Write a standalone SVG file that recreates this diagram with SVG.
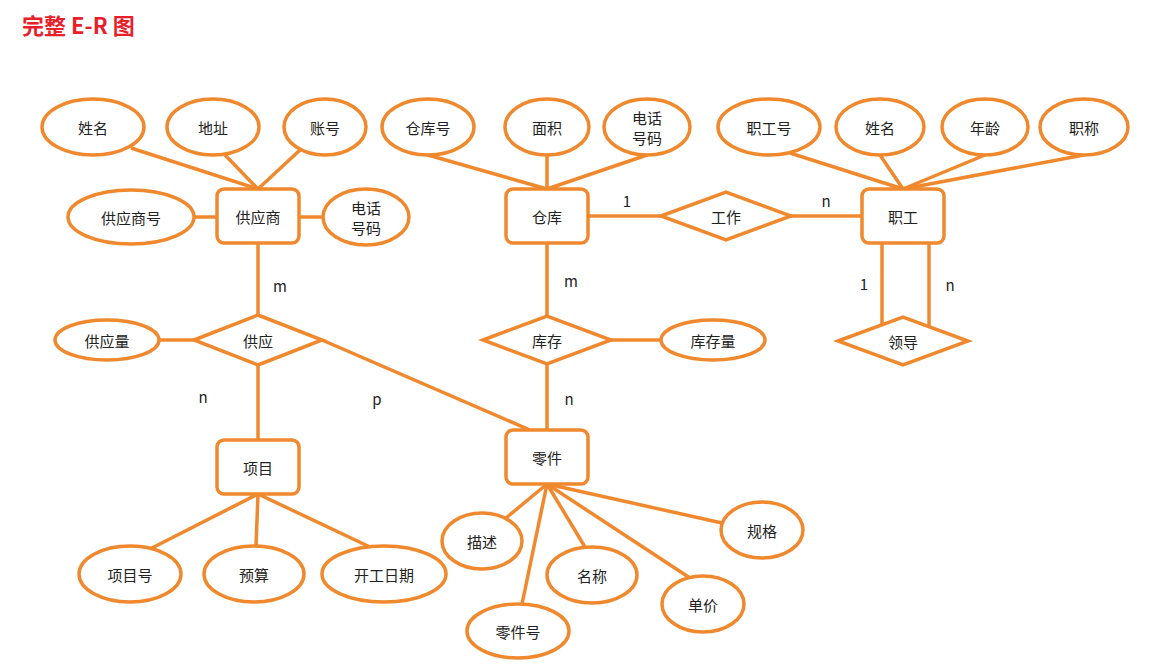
<svg xmlns="http://www.w3.org/2000/svg" width="1158" height="667" viewBox="0 0 1158 667">
<style>
.s{fill:#fff;stroke:#F0892E;stroke-width:3.5}
.l{stroke:#F0892E;stroke-width:3.5;fill:none}
text{font-family:"Noto Sans CJK SC","Liberation Sans",sans-serif;font-size:15px;fill:#222;text-anchor:middle;dominant-baseline:central}
.t{font-size:22px;font-weight:bold;fill:#E8202A;text-anchor:start}
</style>
<rect width="1158" height="667" fill="#fff"/>
<text class="t" x="22" y="24">完整 E-R 图</text>
<g id="connectors" class="l">
<line x1="131" y1="148" x2="258" y2="189"/><line x1="225" y1="155" x2="258" y2="189"/><line x1="300" y1="150" x2="258" y2="189"/>
<line x1="194" y1="217" x2="217" y2="217"/><line x1="299" y1="217" x2="323" y2="217"/>
<line x1="258" y1="243" x2="258" y2="315"/><line x1="159" y1="340" x2="194" y2="340"/>
<line x1="258" y1="365" x2="258" y2="440"/><line x1="322" y1="340" x2="530" y2="430"/>
<line x1="547" y1="155" x2="547" y2="189"/><line x1="428" y1="155" x2="547" y2="189"/><line x1="647" y1="155" x2="547" y2="189"/>
<line x1="588" y1="216" x2="661" y2="216"/><line x1="791" y1="216" x2="862" y2="216"/>
<line x1="547" y1="243" x2="547" y2="316"/><line x1="611" y1="340" x2="661" y2="340"/><line x1="547" y1="364" x2="547" y2="430"/>
<line x1="790" y1="153" x2="903" y2="189"/><line x1="880" y1="155" x2="903" y2="189"/><line x1="985" y1="155" x2="903" y2="189"/><line x1="1084" y1="155" x2="903" y2="189"/>
<line x1="882" y1="243" x2="882" y2="324"/><line x1="929" y1="243" x2="929" y2="326"/>
<line x1="258" y1="494" x2="150" y2="549"/><line x1="258" y1="494" x2="256" y2="546"/><line x1="258" y1="494" x2="370" y2="547"/>
<line x1="547" y1="484" x2="506" y2="518"/><line x1="547" y1="484" x2="522" y2="604"/><line x1="547" y1="484" x2="585" y2="547"/><line x1="547" y1="484" x2="690" y2="578"/><line x1="547" y1="484" x2="722" y2="523"/>
</g>
<g id="labels">
<text x="280" y="285">m</text><text x="203" y="396">n</text><text x="377" y="398">p</text>
<text x="571" y="280">m</text><text x="569" y="398">n</text>
<text x="627" y="200">1</text><text x="826" y="200">n</text>
<text x="864" y="283">1</text><text x="950" y="284">n</text>
</g>
<g id="n1"><ellipse class="s" cx="93" cy="127" rx="51" ry="28"/><text x="93" y="127">姓名</text></g>
<g id="n2"><ellipse class="s" cx="213" cy="127" rx="46" ry="28"/><text x="213" y="127">地址</text></g>
<g id="n3"><ellipse class="s" cx="325" cy="127" rx="41" ry="28"/><text x="325" y="127">账号</text></g>
<g id="n4"><rect class="s" x="217" y="189" width="82" height="54" rx="7"/><text x="258" y="216">供应商</text></g>
<g id="n5"><ellipse class="s" cx="131" cy="217" rx="63" ry="27"/><text x="131" y="217">供应商号</text></g>
<g id="n6"><ellipse class="s" cx="366" cy="217" rx="43" ry="28"/><text x="366" y="207">电话</text><text x="366" y="227">号码</text></g>
<g id="n7"><ellipse class="s" cx="428" cy="127" rx="46" ry="28"/><text x="428" y="127">仓库号</text></g>
<g id="n8"><ellipse class="s" cx="547" cy="127" rx="42" ry="28"/><text x="547" y="127">面积</text></g>
<g id="n9"><ellipse class="s" cx="647" cy="127" rx="43" ry="28"/><text x="647" y="117">电话</text><text x="647" y="137">号码</text></g>
<g id="n10"><rect class="s" x="506" y="189" width="82" height="54" rx="7"/><text x="547" y="216">仓库</text></g>
<g id="n11"><polygon class="s" points="661,216 726,192 791,216 726,240"/><text x="726" y="216">工作</text></g>
<g id="n12"><rect class="s" x="862" y="189" width="82" height="54" rx="7"/><text x="903" y="216">职工</text></g>
<g id="n13"><ellipse class="s" cx="769" cy="127" rx="51" ry="28"/><text x="769" y="127">职工号</text></g>
<g id="n14"><ellipse class="s" cx="880" cy="127" rx="44" ry="28"/><text x="880" y="127">姓名</text></g>
<g id="n15"><ellipse class="s" cx="985" cy="127" rx="43" ry="28"/><text x="985" y="127">年龄</text></g>
<g id="n16"><ellipse class="s" cx="1084" cy="127" rx="44" ry="28"/><text x="1084" y="127">职称</text></g>
<g id="n17"><polygon class="s" points="838,341 903,317 968,341 903,365"/><text x="903" y="341">领导</text></g>
<g id="n18"><polygon class="s" points="194,340 258,315 322,340 258,365"/><text x="258" y="340">供应</text></g>
<g id="n19"><ellipse class="s" cx="107" cy="340" rx="52" ry="20"/><text x="107" y="340">供应量</text></g>
<g id="n20"><polygon class="s" points="483,340 547,316 611,340 547,364"/><text x="547" y="340">库存</text></g>
<g id="n21"><ellipse class="s" cx="713" cy="340" rx="52" ry="20"/><text x="713" y="340">库存量</text></g>
<g id="n22"><rect class="s" x="217" y="440" width="82" height="54" rx="7"/><text x="258" y="467">项目</text></g>
<g id="n23"><rect class="s" x="506" y="430" width="82" height="54" rx="7"/><text x="547" y="457">零件</text></g>
<g id="n24"><ellipse class="s" cx="130" cy="574" rx="51" ry="28"/><text x="130" y="574">项目号</text></g>
<g id="n25"><ellipse class="s" cx="254" cy="574" rx="50" ry="28"/><text x="254" y="574">预算</text></g>
<g id="n26"><ellipse class="s" cx="384" cy="574" rx="62" ry="28"/><text x="384" y="574">开工日期</text></g>
<g id="n27"><ellipse class="s" cx="482" cy="541" rx="40" ry="28"/><text x="482" y="541">描述</text></g>
<g id="n28"><ellipse class="s" cx="518" cy="631" rx="51" ry="27"/><text x="518" y="631">零件号</text></g>
<g id="n29"><ellipse class="s" cx="592" cy="575" rx="45" ry="28"/><text x="592" y="575">名称</text></g>
<g id="n30"><ellipse class="s" cx="703" cy="604" rx="41" ry="28"/><text x="703" y="604">单价</text></g>
<g id="n31"><ellipse class="s" cx="762" cy="530" rx="41" ry="28"/><text x="762" y="530">规格</text></g>
</svg>
